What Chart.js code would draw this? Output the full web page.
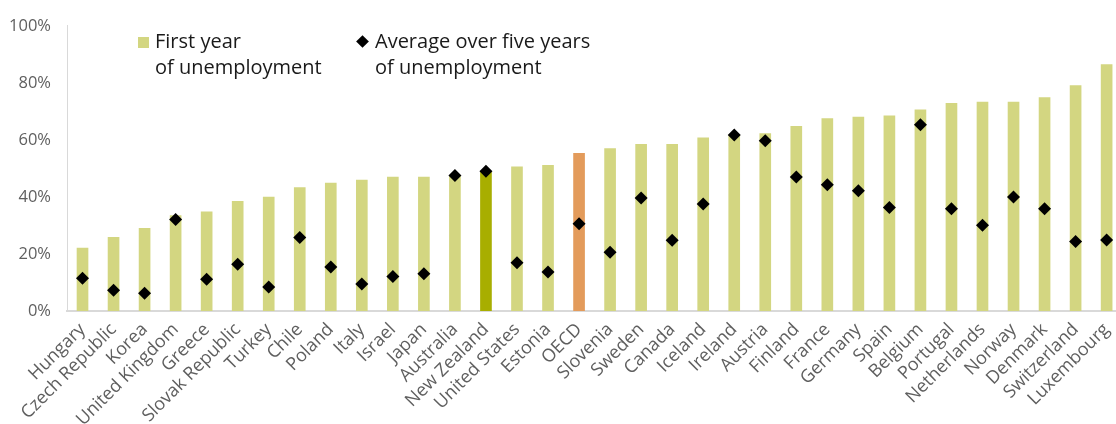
<!DOCTYPE html>
<html>
<head>
<meta charset="utf-8">
<script src="https://cdn.jsdelivr.net/npm/chart.js@4.4.1/dist/chart.umd.min.js"></script>
<style>
  html, body { margin: 0; padding: 0; background: #fff; overflow: hidden; }
  #wrap { position: relative; width: 1130px; height: 424px; }
  #chart { position: absolute; left: 0; top: 0; }
  .legend { position: absolute; font-family: "Open Sans", Lato, sans-serif; font-size: 20px; line-height: 26px; color: #1a1a1a; }
  .swatch { position: absolute; width: 11px; height: 11px; background: #d3d681; }
  .diamond { position: absolute; width: 9px; height: 9px; background: #000; transform: rotate(45deg); }
</style>
</head>
<body>
<div id="wrap">
  <canvas id="chart" width="1130" height="424"></canvas>
  <div class="swatch" style="left:138px; top:37px;"></div>
  <div class="legend" style="left:155px; top:28px;">First year<br>of unemployment</div>
  <div class="diamond" style="left:358px; top:37px;"></div>
  <div class="legend" style="left:375px; top:28px;">Average over five years<br>of unemployment</div>
</div>
<script>
const countries = [
  "Hungary", "Czech Republic", "Korea", "United Kingdom", "Greece", "Slovak Republic",
  "Turkey", "Chile", "Poland", "Italy", "Israel", "Japan", "Australia", "New Zealand",
  "United States", "Estonia", "OECD", "Slovenia", "Sweden", "Canada", "Iceland",
  "Ireland", "Austria", "Finland", "France", "Germany", "Spain", "Belgium", "Portugal",
  "Netherlands", "Norway", "Denmark", "Switzerland", "Luxembourg"
];

// share of previous earnings replaced, %
const firstYear = [
  22.1, 25.8, 29.0, 33.5, 34.8, 38.5, 40.0, 43.3, 44.9, 45.9, 47.0, 47.0, 47.5, 48.8,
  50.6, 51.1, 55.3, 57.0, 58.5, 58.5, 60.7, 61.7, 62.2, 64.8, 67.5, 68.0, 68.5, 70.6,
  72.8, 73.3, 73.3, 74.9, 79.1, 86.4
];

const fiveYearAvg = [
  11.5, 7.3, 6.2, 32.1, 11.1, 16.4, 8.4, 25.8, 15.4, 9.5, 12.1, 13.1, 47.5, 49.0,
  16.9, 13.7, 30.6, 20.6, 39.6, 24.8, 37.5, 61.7, 59.7, 47.0, 44.3, 42.2, 36.3, 65.3,
  35.9, 30.1, 40.0, 35.9, 24.4, 24.9
];

const yTicks = [0, 20, 40, 60, 80, 100];

const barColors = countries.map(c => {
  if (c === "New Zealand") return "#a8ae00";
  if (c === "OECD") return "#e39b5b";
  return "#d3d681";
});

const fontFamily = "'Open Sans', Lato, sans-serif";

new Chart(document.getElementById("chart"), {
  type: "bar",
  data: {
    labels: countries,
    datasets: [{
      type: "bar",
      label: "First year of unemployment",
      data: firstYear,
      backgroundColor: barColors,
      barThickness: 11,
      order: 2
    }, {
      type: "line",
      label: "Average over five years of unemployment",
      data: fiveYearAvg,
      showLine: false,
      pointStyle: "rectRot",
      pointRadius: 6.5,
      pointHoverRadius: 6.5,
      pointBackgroundColor: "#000",
      pointBorderColor: "#000",
      pointBorderWidth: 0,
      order: 1
    }]
  },
  options: {
    responsive: false,
    animation: false,
    layout: { padding: { top: 22, right: 0, left: 0, bottom: 0 } },
    plugins: { legend: { display: false }, tooltip: { enabled: false } },
    scales: {
      x: {
        grid: { display: false, drawTicks: false },
        border: { color: "#d9d9d9", width: 2 },
        ticks: {
          color: "#5f5f5f",
          font: { family: fontFamily, size: 18 },
          minRotation: 45,
          maxRotation: 45,
          autoSkip: false,
          padding: 8
        },
        afterFit: scale => { scale.height = 113; }
      },
      y: {
        min: 0,
        max: 100,
        afterBuildTicks: scale => { scale.ticks = yTicks.map(v => ({ value: v })); },
        grid: { display: false, drawTicks: false },
        border: { color: "#d9d9d9", width: 1 },
        ticks: {
          color: "#5f5f5f",
          font: { family: fontFamily, size: 16.5 },
          padding: 16,
          callback: v => v + "%"
        },
        afterFit: scale => { scale.width = 67; }
      }
    }
  }
});
</script>
</body>
</html>
